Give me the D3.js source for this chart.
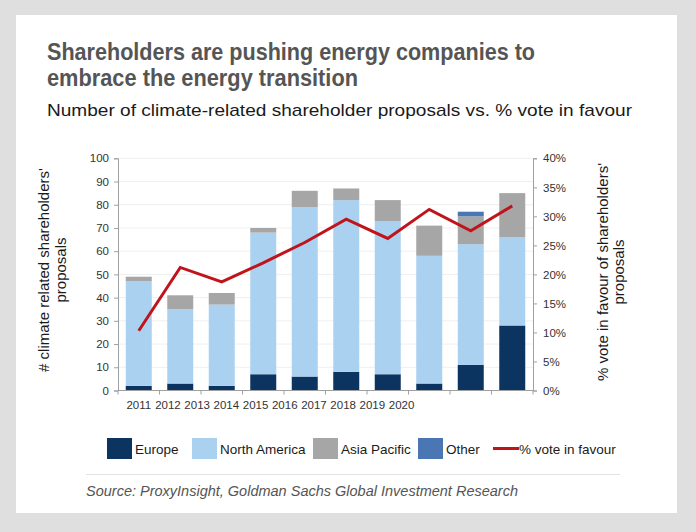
<!DOCTYPE html>
<html><head><meta charset="utf-8">
<script src="https://cdn.jsdelivr.net/npm/d3@7"></script>
<style>
html,body{margin:0;padding:0;background:#dfdfdf;}
svg{display:block;}
</style></head>
<body>
<svg id="chart" width="696" height="532"></svg>
<script>
const years = ["2011","2012","2013","2014","2015","2016","2017","2018","2019","2020"];
const europe       = [2, 3, 2, 7, 6, 8, 7, 3, 11, 28];
const northAmerica = [45, 32, 35, 61, 73, 74, 66, 55, 52, 38];
const asiaPacific  = [2, 6, 5, 2, 7, 5, 9, 13, 12, 19];
const other        = [0, 0, 0, 0, 0, 0, 0, 0, 2, 0];
const voteInFavour = [10.3, 21.2, 18.7, 22.0, 25.5, 29.5, 26.2, 31.2, 27.5, 31.8];
const leftTicks = [0,10,20,30,40,50,60,70,80,90,100];
const rightTicks = [0,5,10,15,20,25,30,35,40];
const seriesNames = ["Europe","North America","Asia Pacific","Other"];
const seriesColors = ["#0b3461","#abd1f1","#a6a6a6","#4a77b4"];
const lineColor = "#c0141c";

const svg = d3.select("#chart");
const W = 696, H = 532;
svg.append("rect").attr("x",0).attr("y",0).attr("width",W).attr("height",H).attr("fill","#dfdfdf");
svg.append("rect").attr("x",16).attr("y",15).attr("width",661).attr("height",498).attr("fill","#ffffff");

const font = "'Liberation Sans', Arial, Helvetica, sans-serif";
const narrow = "'Liberation Sans Narrow', 'Liberation Sans', Arial, sans-serif";

// Titles
svg.append("text").attr("x",47).attr("y",60).attr("font-family",narrow).attr("font-weight","bold")
  .attr("font-size",24).attr("fill","#555555")
  .attr("textLength",488).attr("lengthAdjust","spacingAndGlyphs")
  .text("Shareholders are pushing energy companies to");
svg.append("text").attr("x",47).attr("y",86).attr("font-family",narrow).attr("font-weight","bold")
  .attr("font-size",24).attr("fill","#555555")
  .attr("textLength",311).attr("lengthAdjust","spacingAndGlyphs")
  .text("embrace the energy transition");
svg.append("text").attr("x",47).attr("y",116).attr("font-family",font)
  .attr("font-size",17).attr("fill","#1a1a1a")
  .attr("textLength",585).attr("lengthAdjust","spacingAndGlyphs")
  .text("Number of climate-related shareholder proposals vs. % vote in favour");

// scales
const x0 = 118, x1 = 533, yTop = 158.3, yBot = 390.5;
const x = d3.scaleBand().domain(years).range([x0,x1]).paddingInner(0.37).paddingOuter(0.185);
const y = d3.scaleLinear().domain([0,100]).range([yBot,yTop]);
const y2 = d3.scaleLinear().domain([0,40]).range([yBot,yTop]);

// gridlines
svg.append("g").selectAll("line").data(leftTicks.slice(1)).join("line")
  .attr("x1",x0).attr("x2",x1).attr("y1",d=>y(d)).attr("y2",d=>y(d))
  .attr("stroke","#efefef").attr("stroke-width",1);

// stacked bars
const rows = years.map((yr,i)=>({year:yr, "Europe":europe[i], "North America":northAmerica[i], "Asia Pacific":asiaPacific[i], "Other":other[i]}));
const stack = d3.stack().keys(seriesNames)(rows);
const bw = 26;
svg.append("g").selectAll("g").data(stack).join("g")
  .attr("fill",(d,i)=>seriesColors[i])
  .selectAll("rect").data(d=>d).join("rect")
  .attr("x",d=>x(d.data.year)+x.bandwidth()/2-bw/2)
  .attr("width",bw)
  .attr("y",d=>y(d[1]))
  .attr("height",d=>Math.max(0,y(d[0])-y(d[1])));

// axes
const axisColor = "#a0a0a0";
const gl = svg.append("g").attr("transform",`translate(${x0},0)`)
  .call(d3.axisLeft(y).tickValues(leftTicks).tickSize(4).tickPadding(5));
const gr = svg.append("g").attr("transform",`translate(${x1},0)`)
  .call(d3.axisRight(y2).tickValues(rightTicks).tickSize(4).tickPadding(6).tickFormat(d=>d+"%"));
const bounds = d3.range(0, years.length+1).map(i=>x0+i*(x1-x0)/years.length);
const gx = svg.append("g");
gx.append("line").attr("x1",x0).attr("x2",x1).attr("y1",yBot).attr("y2",yBot).attr("stroke",axisColor);
gx.selectAll("line.t").data(bounds).join("line").attr("class","t")
  .attr("x1",d=>d).attr("x2",d=>d).attr("y1",yBot).attr("y2",yBot+4).attr("stroke",axisColor);

[gl,gr].forEach(g=>{
  g.select(".domain").attr("stroke",axisColor);
  g.selectAll(".tick line").attr("stroke",axisColor);
  g.selectAll(".tick text").attr("fill","#333").attr("font-family",font).attr("font-size",11.5);
});

// x labels (as laid out in the original, compressed)
const xl = d3.scalePoint().domain(years).range([x(years[0])+x.bandwidth()/2, x(years[0])+x.bandwidth()/2+9*29.2]);
svg.append("g").selectAll("text").data(years).join("text")
  .attr("x",d=>xl(d)).attr("y",409).attr("text-anchor","middle")
  .attr("font-family",font).attr("font-size",11.5).attr("fill","#333").text(d=>d);

// line
const line = d3.line().x((d,i)=>x(years[i])+x.bandwidth()/2).y(d=>y2(d));
svg.append("path").datum(voteInFavour).attr("d",line).attr("fill","none")
  .attr("stroke",lineColor).attr("stroke-width",3).attr("stroke-linejoin","miter");

// axis titles
const lt = svg.append("text").attr("transform","translate(49,270) rotate(-90)")
  .attr("text-anchor","middle").attr("font-family",font).attr("font-size",15).attr("fill","#1a1a1a");
lt.append("tspan").attr("x",0).attr("dy",0).text("# climate related shareholders'");
lt.append("tspan").attr("x",0).attr("dy",17).text("proposals");
const rt = svg.append("text").attr("transform","translate(608,272) rotate(-90)")
  .attr("text-anchor","middle").attr("font-family",font).attr("font-size",15).attr("fill","#1a1a1a");
rt.append("tspan").attr("x",0).attr("dy",0).text("% vote in favour of shareholders'");
rt.append("tspan").attr("x",0).attr("dy",16).text("proposals");

// legend
const legendItems = [
  {name:"Europe", color:seriesColors[0], type:"rect", sx:107, tx:135},
  {name:"North America", color:seriesColors[1], type:"rect", sx:192, tx:220},
  {name:"Asia Pacific", color:seriesColors[2], type:"rect", sx:313, tx:341},
  {name:"Other", color:seriesColors[3], type:"rect", sx:418, tx:446},
  {name:"% vote in favour", color:lineColor, type:"line", sx:493, tx:519}
];
const lg = svg.append("g");
legendItems.forEach(it=>{
  if(it.type==="rect"){
    lg.append("rect").attr("x",it.sx).attr("y",438).attr("width",25).attr("height",21).attr("fill",it.color);
  } else {
    lg.append("line").attr("x1",it.sx).attr("x2",it.sx+26).attr("y1",448.5).attr("y2",448.5).attr("stroke",it.color).attr("stroke-width",3);
  }
  lg.append("text").attr("x",it.tx).attr("y",453.5).attr("font-family",font).attr("font-size",13.5).attr("fill","#1a1a1a").text(it.name);
});

// separator and source
svg.append("line").attr("x1",86).attr("x2",620).attr("y1",474.5).attr("y2",474.5).attr("stroke","#e2e2e2").attr("stroke-width",1);
svg.append("text").attr("x",86).attr("y",496).attr("font-family",font).attr("font-style","italic")
  .attr("font-size",14.5).attr("fill","#555").text("Source: ProxyInsight, Goldman Sachs Global Investment Research");
</script>
</body></html>
